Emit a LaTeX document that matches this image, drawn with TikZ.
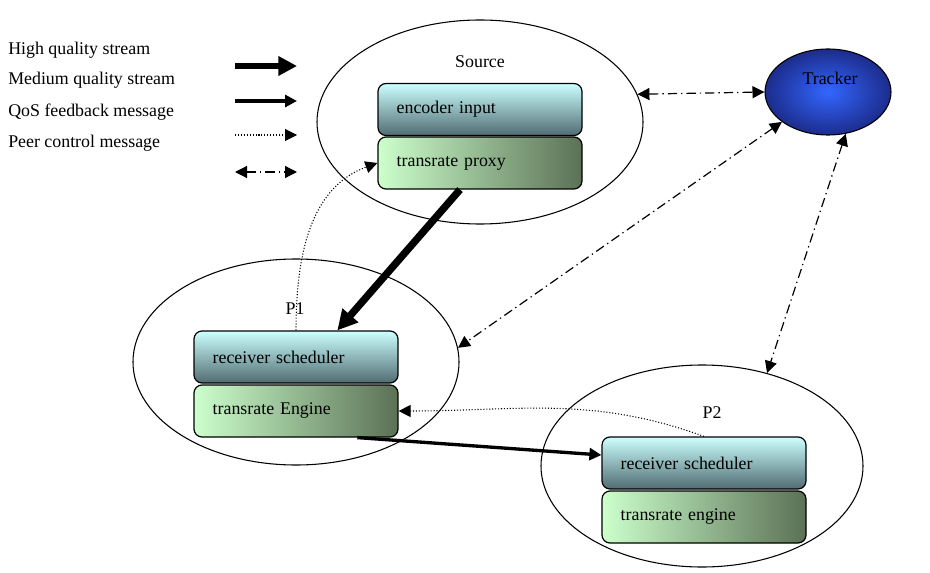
\documentclass[tikz,border=0pt]{standalone}
\usepackage{fontspec}
\setmainfont{Liberation Serif}
\usetikzlibrary{shapes.geometric,arrows.meta}
\definecolor{schedtop}{HTML}{CCFFFF}
\definecolor{schedbot}{HTML}{506C72}
\definecolor{engleft}{HTML}{CCFFCC}
\definecolor{engright}{HTML}{5B7155}
\definecolor{trackin}{HTML}{3366FF}
\definecolor{trackout}{HTML}{1C2C8C}

\begin{document}
\begin{tikzpicture}[x=0.75pt,y=0.75pt,
  every node/.style={font=\fontsize{13.4}{16}\selectfont},
  peer/.style={draw,ellipse,line width=0.8pt,inner sep=0pt},
  upperbox/.style={draw,rounded corners=6pt,line width=0.9pt,minimum width=153pt,
    minimum height=39pt,inner xsep=14pt,inner ysep=0pt,text width=125pt,align=left,
    top color=schedtop,bottom color=schedbot},
  lowerbox/.style={upperbox,left color=engleft,right color=engright},
  legtext/.style={anchor=west,inner sep=0pt},
  hq/.style={line width=5.5pt,-{Triangle[length=15pt,width=15pt]}},
  mq/.style={line width=2.5pt,-{Triangle[length=9pt,width=9pt]}},
  qos/.style={line width=0.8pt,dash pattern=on 0.8pt off 1.4pt,-{Triangle[length=9pt,width=9pt]}},
  ctrl/.style={line width=0.9pt,dash pattern=on 7pt off 3pt on 1pt off 3pt,
    {Triangle[length=9pt,width=9pt]}-{Triangle[length=9pt,width=9pt]}}]
  \useasboundingbox (0,0) rectangle (930,-573);

  % legend
  \node[legtext] (hqtext) at (8,-50) {High quality stream};
  \node[legtext] (mqtext) at (8,-80) {Medium quality stream};
  \node[legtext] (qostext) at (8,-112) {QoS feedback message};
  \node[legtext] (ctrltext) at (8,-143) {Peer control message};
  \draw[hq,line width=5pt,-{Triangle[length=14pt,width=14pt]}] (235,-66)--(297,-66);
  \draw[mq] (235,-101)--(297,-101);
  \draw[qos] (235,-135)--(297,-135);
  \draw[ctrl] (235,-172)--(297,-172);

  % peers
  \node[peer,minimum width=244.5pt,minimum height=153pt] (src) at (480,-122) {};
  \node[peer,minimum width=94.5pt,minimum height=64.5pt,inner color=trackin,outer color=trackout] (tracker) at (828,-92) {};
  \node[peer,minimum width=244.5pt,minimum height=154.5pt] (p1) at (296,-362) {};
  \node[peer,minimum width=241.5pt,minimum height=151.5pt] (p2) at (702,-466) {};

  \node (srclabel) at (480,-62) {Source};
  \node (trklabel) at (830,-78) {Tracker};
  \node (p1label) at (295,-309) {P1};
  \node (p2label) at (712,-413) {P2};

  % modules
  \node[upperbox] (enc) at (480,-109.5) {encoder input};
  \node[lowerbox] (proxy) at (480,-163) {transrate proxy};
  \node[upperbox] (rs1) at (296,-357) {receiver scheduler};
  \node[lowerbox] (te1) at (296,-411) {transrate Engine};
  \node[upperbox] (rs2) at (704,-463) {receiver scheduler};
  \node[lowerbox] (te2) at (704,-517) {transrate engine};

  % streams and messages
  \draw[hq] ([xshift=-15pt]proxy.south) -- ([xshift=31pt]rs1.north);
  \draw[mq] ([xshift=46pt]te1.south) -- ([yshift=6pt]rs2.west);
  \draw[qos] (rs1.north) to[out=90,in=200] (proxy.west);
  \draw[qos] (rs2.north) to[out=160,in=0] (te1.east);
  \draw[ctrl] (src.10) -- (tracker.west);
  \draw[ctrl] (tracker.213) -- (p1.5);
  \draw[ctrl] (tracker.-67) -- (p2.55);
\end{tikzpicture}
\end{document}
